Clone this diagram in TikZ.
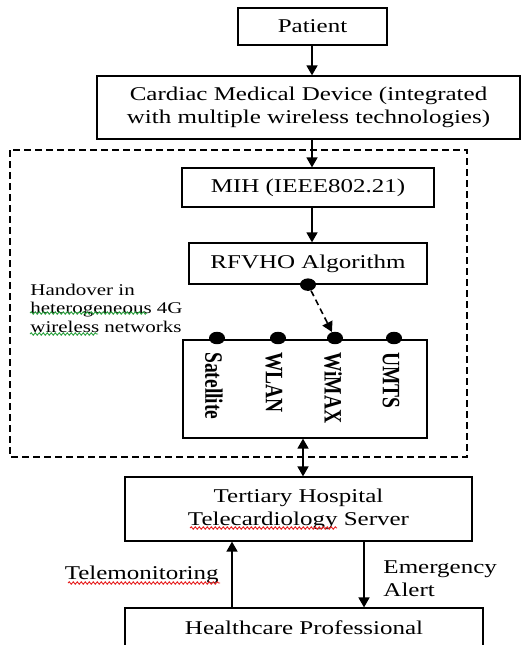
\documentclass[tikz,border=0pt]{standalone}
\usepackage{fontspec}
\setmainfont{Liberation Serif}
\usepackage{xcolor}
\usetikzlibrary{arrows.meta,decorations.pathmorphing}

\definecolor{spellred}{RGB}{230,30,30}
\definecolor{grammargreen}{RGB}{40,160,60}

\tikzset{
  box/.style={draw, line width=0.8pt, inner sep=0pt, align=center,
    font=\fontsize{12.5}{14.7}\selectfont},
  lbl/.style={font=\fontsize{12.5}{14.7}\selectfont},
  arr/.style={line width=0.8pt, -{Triangle[length=5pt,width=5.5pt]}},
  twoway/.style={line width=0.8pt,
    {Triangle[length=5pt,width=5.5pt]}-{Triangle[length=5pt,width=5.5pt]}},
  dot/.style={circle, fill, inner sep=0pt, minimum size=8pt},
  net/.style={rotate=-90, anchor=west, inner sep=0pt,
    font=\fontsize{12.5}{14}\selectfont\bfseries},
  frame/.style={line width=0.7pt, dash pattern=on 3.5pt off 2pt},
  spell/.style={decorate, decoration={snake, amplitude=0.6pt, segment length=2pt},
    line width=0.45pt},
}

\begin{document}
\begin{tikzpicture}[x=0.5pt, y=-0.641pt, yscale=0.78, transform shape]
\useasboundingbox (0,0) rectangle (522,645);
\clip (0,0) rectangle (522,645);

% main chain of boxes
\node[box, minimum width=74.5pt, minimum height=23.7pt] (patient) at (312.5,26.5) {Patient};
\node[box, minimum width=211.5pt, minimum height=40.4pt] (device) at (308.5,107.5)
  {Cardiac Medical Device (integrated\\with multiple wireless technologies)};
\node[box, minimum width=126pt, minimum height=25pt] (mih) at (308,187.5) {MIH (IEEE802.21)};
\node[box, minimum width=119pt, minimum height=26.3pt] (rfvho) at (308,263.5) {RFVHO Algorithm};
\node[box, minimum width=122pt, minimum height=62.8pt] (nets) at (305,389) {};
\node[box, minimum width=173.5pt, minimum height=41pt] (tertiary) at (298.5,509)
  {Tertiary Hospital\\Telecardiology Server};
\node[box, minimum width=179pt, minimum height=25.6pt] (health) at (304,628) {Healthcare Professional};

% handover area
\draw[frame] (10,150) rectangle (467,457);
\node[anchor=north west, inner sep=0pt, align=left,
  font=\fontsize{10.5}{11.7}\selectfont] (handover) at (30,284)
  {Handover in\\heterogeneous 4G\\wireless networks};

% network interfaces
\node[dot] (algdot) at (rfvho.south) {};
\node[dot] (satdot) at (217,338) {};
\node[dot] (wlandot) at (278,338) {};
\node[dot] (wimaxdot) at (335,338) {};
\node[dot] (umtsdot) at (394,338) {};
\node[net] (sat) at (214,352) {Satellite};
\node[net] (wlan) at (274,352) {WLAN};
\node[net] (wimax) at (333,352) {WiMAX};
\node[net] (umts) at (391,352) {UMTS};

% connectors
\coordinate (mid) at (312,0);
\coordinate (link) at (303,0);
\coordinate (upx) at (232,0);
\coordinate (downx) at (364,0);
\draw[arr] (patient.south -| mid) -- (device.north -| mid);
\draw[arr] (device.south -| mid) -- (mih.north -| mid);
\draw[arr] (mih.south -| mid) -- (rfvho.north -| mid);
\draw[arr, dash pattern=on 3pt off 2pt] (algdot) -- (wimaxdot);
\draw[twoway] (nets.south -| link) -- (tertiary.north -| link);
\draw[arr] (health.north -| upx) -- node[lbl, left=3pt] (telemon) {Telemonitoring} (tertiary.south -| upx);
\draw[arr] (tertiary.south -| downx) -- node[lbl, right=6pt, pos=0.57, align=left] (alert)
  {Emergency\\Alert} (health.north -| downx);

% spell checker marks
\draw[spell, spellred] (190,528) -- (337,528);
\draw[spell, spellred] (68,583) -- (220,583);
\draw[spell, grammargreen] (30,313) -- (147,313);
\draw[spell, grammargreen] (30,334) -- (98,334);
\end{tikzpicture}
\end{document}
